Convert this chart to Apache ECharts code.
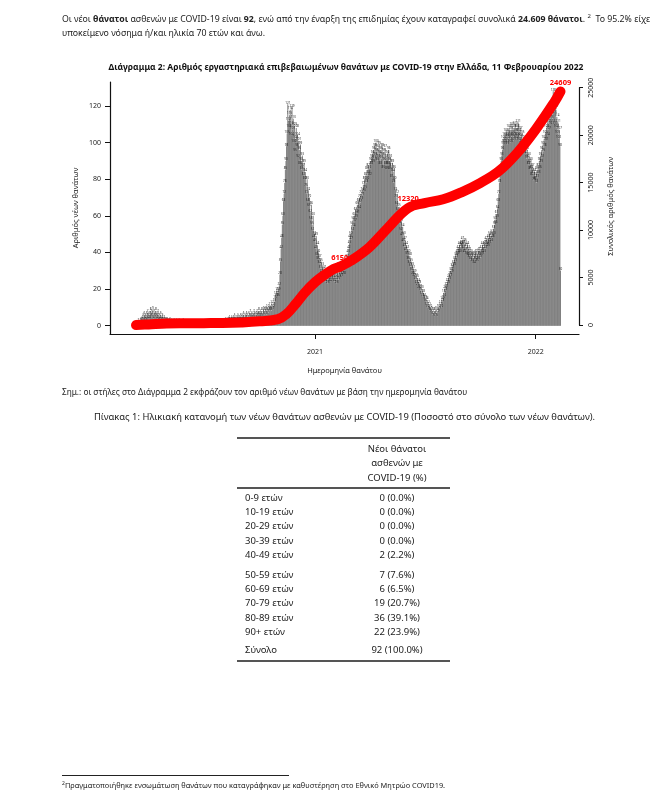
<!DOCTYPE html>
<html><head><meta charset="utf-8">
<script src="https://cdn.jsdelivr.net/npm/echarts@6/dist/echarts.min.js"></script>
<style>
html,body{margin:0;padding:0;background:#fff;}
body{width:666px;height:798px;position:relative;overflow:hidden;font-family:"Noto Sans",sans-serif;color:#222;}
#chart{position:absolute;left:0;top:0;width:666px;height:798px;}
.t{position:absolute;white-space:nowrap;line-height:1;}
.rule{position:absolute;background:#555;}
</style></head><body>
<div id="chart"></div>
<div class="t" style="left:62px;top:13px;font-size:8.75px">Οι νέοι <b>θάνατοι</b> ασθενών με COVID-19 είναι <b>92</b>, ενώ από την έναρξη της επιδημίας έχουν καταγραφεί συνολικά <b>24.609 θάνατοι</b>. <sup style="font-size:6px">2</sup>&nbsp; Το 95.2% είχε</div>
<div class="t" style="left:62px;top:29px;font-size:8.75px">υποκείμενο νόσημα ή/και ηλικία 70 ετών και άνω.</div>
<div class="t" style="left:62px;top:388px;font-size:8.3px">Σημ.: οι στήλες στο Διάγραμμα 2 εκφράζουν τον αριθμό νέων θανάτων με βάση την ημερομηνία θανάτου</div>
<div class="t" style="left:94px;top:412px;font-size:9.4px">Πίνακας 1: Ηλικιακή κατανομή των νέων θανάτων ασθενών με COVID-19 (Ποσοστό στο σύνολο των νέων θανάτων).</div>
<div id="table"></div>
<div class="rule" style="left:62px;top:775px;width:227px;height:1px;background:#222"></div>
<div class="t" style="left:62px;top:781px;font-size:7.4px"><sup style="font-size:5px">2</sup>Πραγματοποιήθηκε ενσωμάτωση θανάτων που καταγράφηκαν με καθυστέρηση στο Εθνικό Μητρώο COVID19.</div>
<script>
// ---------- DATA ----------
const startDate = '2020-03-11';
const deaths2020 = [
 1,0,1,0,2,1,1,2,3,2,4,3,5,2,6,4,5,3,6,7,4,
 5,6,4,8,7,5,6,9,4,7,5,6,8,5,4,7,6,3,5,4,6,3,4,5,3,2,4,3,2,3,
 2,3,1,2,2,3,1,2,1,1,2,1,0,2,1,1,2,0,1,1,2,0,1,0,1,1,0,2,1,0,1,
 0,1,0,1,1,0,1,0,0,1,1,0,0,1,0,1,0,0,1,0,1,1,0,0,1,0,1,1,0,1,
 0,1,0,1,0,0,1,1,0,1,0,1,1,0,0,1,0,1,1,0,1,0,1,1,0,2,1,1,0,1,2,
 1,2,1,2,1,3,2,1,2,3,2,4,3,2,3,4,3,2,4,3,5,3,4,2,3,4,5,3,4,3,5,
 4,3,5,4,6,3,4,5,4,6,5,3,4,6,5,7,4,5,6,4,5,7,6,5,4,6,7,5,6,8,
 6,5,7,6,8,5,7,9,6,8,7,9,6,8,10,7,9,8,11,9,8,12,10,9,11,13,15,17,16,19,18,
 16,19,22,28,35,42,48,55,60,68,72,78,85,90,98,105,121,112,108,115,118,110,104,119,107,113,100,109,95,102,
 108,98,104,92,101,96,88,99,90,85,93,87,82,89,80,84,76,72,80,68,74,65,70,62,58,66,55,52,60,48,50
];
const deaths2021 = [
 46,42,49,38,44,36,40,34,37,31,35,29,33,27,30,26,31,24,28,25,29,23,27,26,30,24,28,25,27,29,26,
 27,24,28,25,26,23,29,27,25,30,26,28,31,27,29,32,30,28,33,31,35,33,37,36,40,42,45,48,
 50,47,55,52,58,54,60,57,63,59,62,66,61,68,64,70,67,72,69,74,71,77,73,80,75,82,78,85,80,87,83,
 86,82,90,88,92,94,89,96,91,98,93,100,95,90,97,92,99,94,88,96,91,98,93,86,95,90,97,88,92,85,
 94,88,96,90,85,92,87,81,89,84,78,86,80,74,70,66,72,63,59,65,56,60,52,57,49,54,46,50,43,47,41,
 44,39,42,36,40,34,38,32,35,30,33,28,31,27,29,25,27,23,26,22,24,20,23,19,21,17,20,16,18,15,
 16,13,15,11,14,10,12,9,11,8,10,7,9,6,8,7,5,8,6,9,7,5,8,10,7,9,11,12,10,14,13,
 15,18,16,20,19,22,21,24,23,26,25,28,27,30,29,32,31,34,33,36,35,38,37,40,39,42,41,44,40,43,45,
 44,47,42,45,40,46,41,43,39,44,38,42,37,41,36,40,38,35,39,37,34,38,36,40,37,35,39,36,41,38,
 40,37,42,39,44,41,43,40,45,42,47,44,46,43,48,45,50,47,49,46,51,48,53,50,55,58,56,61,59,64,68,
 72,78,82,86,90,93,96,99,102,100,104,101,106,103,99,105,102,108,104,100,107,103,109,105,101,108,104,110,106,102,
 108,104,111,106,101,107,103,99,105,100,96,102,98,94,99,95,91,96,92,88,93,89,85,90,86,82,87,83,79,84,80
];
const deaths2022 = [
 82,78,85,81,87,83,90,86,93,89,96,92,99,95,102,98,105,101,108,104,111,107,114,110,117,113,120,116,111,128,118,
 116,110,119,108,114,105,111,102,107,98,30
];
const cumDates = ['2020-03-11','2020-04-01','2020-05-01','2020-06-01','2020-07-01','2020-08-01','2020-09-01','2020-10-01','2020-11-01','2020-11-15','2020-12-01','2020-12-15','2021-01-01','2021-01-15','2021-02-01','2021-02-11','2021-03-01','2021-04-01','2021-05-01','2021-06-04','2021-07-01','2021-08-01','2021-09-01','2021-10-01','2021-11-01','2021-12-01','2022-01-01','2022-02-01','2022-02-11'];
const cumValues = [0,60,150,180,195,210,270,390,620,1150,2300,3400,4500,5200,5900,6150,6750,8200,10200,12320,12850,13250,14000,14950,16200,18100,20600,23500,24609];
const labeledDates = ['2021-02-11','2021-06-04','2022-02-11'];
const leftTicks = [0,20,40,60,80,100,120];
const yearTicks = ['2021-01-01','2022-01-01'];
const ageGroups = ['0-9 ετών','10-19 ετών','20-29 ετών','30-39 ετών','40-49 ετών','50-59 ετών','60-69 ετών','70-79 ετών','80-89 ετών','90+ ετών','Σύνολο'];
const ageValues = ['0 (0.0%)','0 (0.0%)','0 (0.0%)','0 (0.0%)','2 (2.2%)','7 (7.6%)','6 (6.5%)','19 (20.7%)','36 (39.1%)','22 (23.9%)','92 (100.0%)'];
const tableHeader = ['Νέοι θάνατοι','ασθενών με','COVID-19 (%)'];

// ---------- TABLE ----------
(function(){
  const tb = document.getElementById('table');
  let h = '';
  h += '<div class="rule" style="left:237px;top:437px;width:213px;height:2px"></div>';
  tableHeader.forEach((s,i)=>{ h += '<div class="t" style="left:397px;transform:translateX(-50%);top:'+(444+i*14.3)+'px;font-size:9.5px">'+s+'</div>'; });
  h += '<div class="rule" style="left:237px;top:487px;width:213px;height:1.5px"></div>';
  ageGroups.forEach((g,i)=>{
    let c = 497.7 + i*14.3 + (i>=5?5.6:0) + (i>=10?4:0);
    h += '<div class="t" style="left:245px;top:'+(c-5)+'px;font-size:9.5px">'+g+'</div>';
    h += '<div class="t" style="left:397px;transform:translateX(-50%);top:'+(c-5)+'px;font-size:9.5px">'+ageValues[i]+'</div>';
  });
  h += '<div class="rule" style="left:237px;top:660px;width:213px;height:2px"></div>';
  tb.innerHTML = h;
})();

// ---------- CHART ----------
const toT = s => { const p = s.split('-').map(Number); return Date.UTC(p[0], p[1]-1, p[2]); };
const DAY = 86400000;
const t0 = toT(startDate);
const daily = [].concat(deaths2020, deaths2021, deaths2022);
const barData = daily.map((v,i)=>[t0 + i*DAY, v]);
const cumData = cumDates.map((d,i)=>{
  const item = {value:[toT(d), cumValues[i]]};
  if (labeledDates.indexOf(d) >= 0) item.label = {show:true};
  return item;
});
const tMin = Date.UTC(2020,0,28);
const tMax = Date.UTC(2022,2,13,14);
const yearT = yearTicks.map(toT);
const FONT = '"Noto Sans", sans-serif';

const chart = echarts.init(document.getElementById('chart'), null, {renderer:'canvas'});
chart.setOption({
  animation:false,
  textStyle:{fontFamily:FONT, color:'#222'},
  graphic:[{type:'text', x:346, y:68, style:{text:'Διάγραμμα 2: Αριθμός εργαστηριακά επιβεβαιωμένων θανάτων με COVID-19 στην Ελλάδα, 11 Φεβρουαρίου 2022', align:'center', verticalAlign:'middle', font:'bold 8.5px '+FONT, fill:'#111'}}],
  grid:[
    {left:110, right:87, top:82, bottom:464},
    {left:110, right:87, top:82, bottom:472.3},
    {left:110, right:87, top:87.7, bottom:473}
  ],
  xAxis:[
    {gridIndex:0, type:'value', min:tMin, max:tMax,
     axisLine:{lineStyle:{color:'#111', width:1.2}},
     axisTick:{show:true, customValues:yearT, length:5, lineStyle:{color:'#111'}},
     axisLabel:{customValues:yearT, formatter:v=>String(new Date(v).getUTCFullYear()), fontSize:7, color:'#222', margin:14},
     splitLine:{show:false},
     name:'Ημερομηνία θανάτου', nameLocation:'middle', nameGap:33, nameTextStyle:{fontSize:7.5, color:'#222'}},
    {gridIndex:1, type:'value', min:tMin, max:tMax, show:false, splitLine:{show:false}},
    {gridIndex:2, type:'value', min:tMin, max:tMax, show:false, splitLine:{show:false}}
  ],
  yAxis:[
    {gridIndex:0, type:'value', min:0, max:1,
     axisLine:{show:true, lineStyle:{color:'#111', width:1.2}}, axisTick:{show:false}, axisLabel:{show:false}, splitLine:{show:false},
     name:'Αριθμός νέων θανάτων', nameLocation:'middle', nameRotate:90, nameGap:30, nameTextStyle:{fontSize:7.5, color:'#222'}},
    {gridIndex:1, type:'value', min:0, max:133.1,
     axisLine:{show:false},
     axisTick:{show:true, customValues:leftTicks, length:5, lineStyle:{color:'#111'}},
     axisLabel:{customValues:leftTicks, fontSize:7, color:'#222', margin:9},
     splitLine:{show:false}},
    {gridIndex:2, type:'value', position:'right', min:0, max:25000, interval:5000,
     axisLine:{show:true, lineStyle:{color:'#111', width:1.2}},
     axisTick:{show:true, length:4, lineStyle:{color:'#111'}},
     axisLabel:{rotate:90, fontSize:7, color:'#222', margin:8, formatter:v=>String(v)},
     splitLine:{show:false},
     name:'Συνολικός αριθμός θανάτων', nameLocation:'middle', nameRotate:90, nameGap:28, nameTextStyle:{fontSize:7.5, color:'#222'}}
  ],
  series:[
    {type:'bar', xAxisIndex:1, yAxisIndex:1, data:barData, barWidth:1,
     itemStyle:{color:'#808080'},
     label:{show:true, position:'top', distance:0, fontSize:3, color:'#222', formatter:p=>String(p.value[1])}},
    {type:'line', xAxisIndex:2, yAxisIndex:2, data:cumData, smooth:0.4,
     symbol:'circle', symbolSize:0, showSymbol:true, showAllSymbol:true, clip:false, z:5,
     lineStyle:{color:'#ff0000', width:10, cap:'round', join:'round'},
     itemStyle:{color:'#ff0000'},
     label:{show:false, position:'top', distance:5, fontSize:7.5, fontWeight:'bold', color:'#ff0000', formatter:p=>String(p.value[1])}}
  ]
});
</script>
</body></html>
